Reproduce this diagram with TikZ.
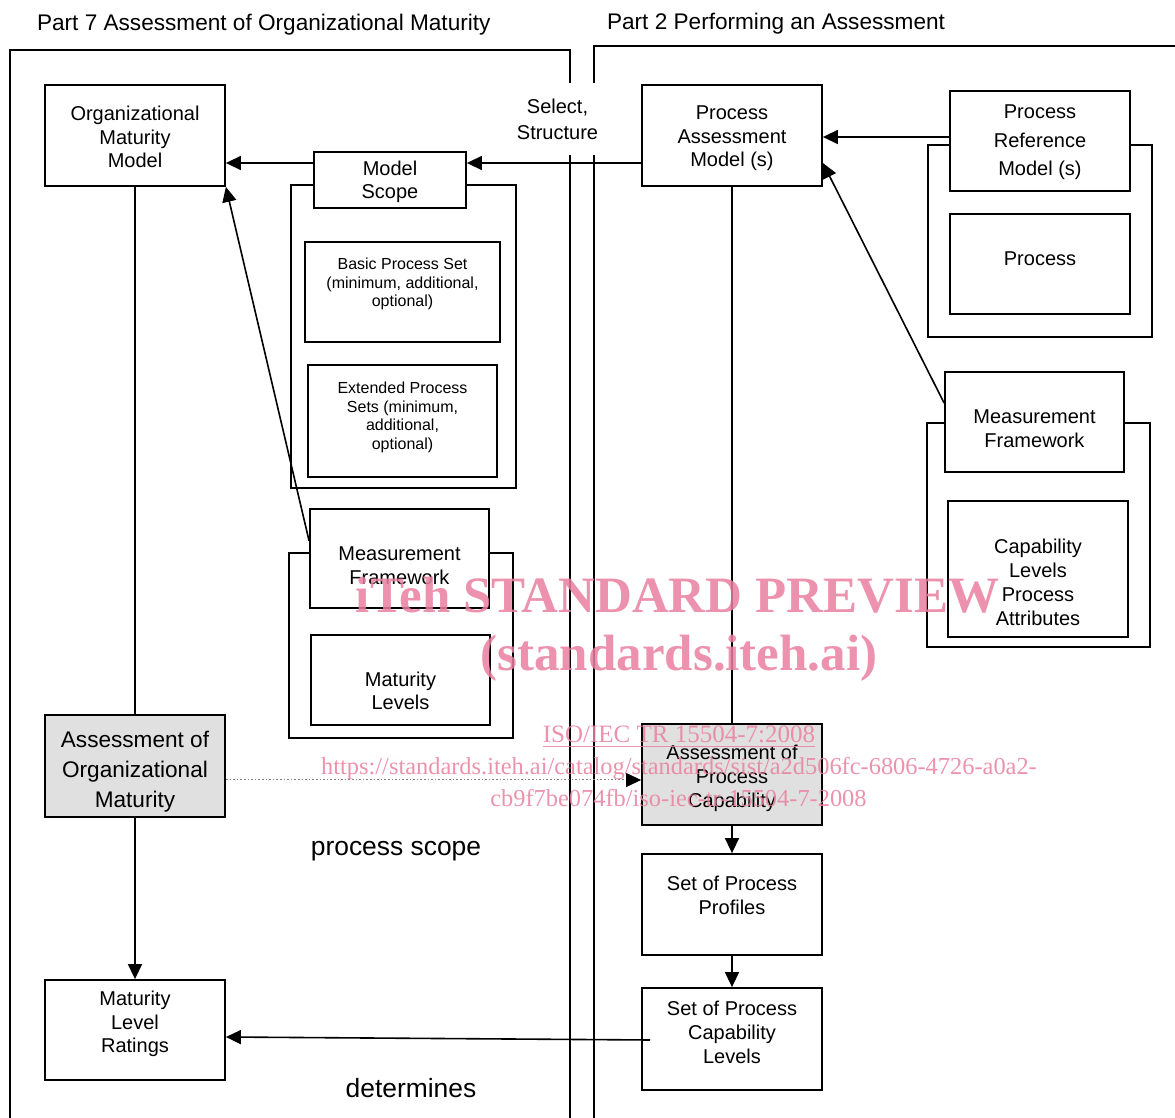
\documentclass[tikz,border=0pt]{standalone}
\usepackage{fontspec}
\setmainfont{Liberation Sans}
\newfontfamily\wmfont{Liberation Serif}
\usetikzlibrary{arrows.meta}
\definecolor{wmpink}{RGB}{234,128,160}

\begin{document}
\begin{tikzpicture}[x=0.5pt,y=-0.5pt,
	box/.style={draw,line width=0.9pt,fill=white,inner sep=0pt},
	shaded/.style={box,fill=black!12},
	lbl/.style={align=center,font=\fontsize{10}{11.75}\selectfont},
	small/.style={align=center,font=\fontsize{8}{9.25}\selectfont},
	frame/.style={line width=0.9pt},
	arr/.style={line width=0.8pt,-{Triangle[length=7.5pt,width=7pt,color=black]}},
	wm/.style={wmpink,opacity=0.85,inner sep=0pt,anchor=base}]
				\useasboundingbox (0,0) rectangle (1175,1118);
				\fill[white] (0,0) rectangle (1175,1118);
				\coordinate (refrow) at (0,137);
				\coordinate (selrow) at (0,163);
				\coordinate (mflrow) at (0,541);
				\coordinate (mfrrow) at (0,403);
				\coordinate (dotrow) at (0,780);
				\coordinate (detrow) at (0,1037);
				\node[anchor=west,font=\fontsize{11.3}{13}\selectfont](part7) at (30,25){Part 7 Assessment of Organizational Maturity};
				\node[anchor=west,font=\fontsize{11.3}{13}\selectfont](part2) at (600,24){Part 2 Performing an Assessment};
				\draw[frame](570,1118) to (570,50) to (10,50) to (10,1118);
				\draw[frame](594,1118) to (594,46) to (1175,46);
				\draw[frame](291,185) rectangle (516,488);
				\draw[frame](289,553) rectangle (513,738);
				\draw[frame](928,145) rectangle (1152,337);
				\draw[frame](927,423) rectangle (1150,647);
				\node[fill=white,align=center,inner xsep=2pt,minimum height=36pt,font=\fontsize{10}{13}\selectfont](sel) at (557.5,119){Select,\\Structure};
				\node[box,minimum width=90pt,minimum height=50.5pt,label={[lbl,yshift=-0.75pt]center:Organizational\\Maturity\\Model}](omm) at (135,135.5){};
				\node[box,minimum width=76pt,minimum height=28pt,label={[lbl,yshift=-1pt]center:Model\\Scope}](ms) at (390,180){};
				\node[box,minimum width=97.5pt,minimum height=50pt,label={[small,yshift=4pt]center:{Basic Process Set\\(minimum, additional,\\optional)}}](bps) at (402.5,292){};
				\node[box,minimum width=94.5pt,minimum height=56pt,label={[small,yshift=1.75pt]center:{Extended Process\\Sets (minimum,\\additional,\\optional)}}](eps) at (402.5,421){};
				\node[box,minimum width=89.5pt,minimum height=49.5pt,label={[lbl,yshift=-3.5pt]center:Measurement\\Framework}](mfl) at (399.5,558.5){};
				\node[box,minimum width=89.5pt,minimum height=45pt,label={[lbl,yshift=-5.5pt]center:Maturity\\Levels}](ml) at (400.5,680){};
				\node[shaded,minimum width=90pt,minimum height=51pt,label={[align=center,font=\fontsize{11.3}{15}\selectfont,yshift=-3pt]center:Assessment of\\Organizational\\Maturity}](aom) at (135,766){};
				\node[box,minimum width=90pt,minimum height=50pt,label={[lbl,yshift=3pt]center:Maturity\\Level\\Ratings}](mlr) at (135,1030){};
				\node[box,minimum width=90pt,minimum height=50.5pt,label={[lbl,yshift=-1.5pt]center:Process\\Assessment\\Model (s)}](pam) at (732,135.5){};
				\node[box,minimum width=90pt,minimum height=50pt,label={[align=center,font=\fontsize{10}{14.25}\selectfont,yshift=-0.75pt]center:Process\\Reference\\Model (s)}](prm) at (1040,141){};
				\node[box,minimum width=90pt,minimum height=50pt,label={[lbl,yshift=2.75pt]center:Process}](proc) at (1040,264){};
				\node[box,minimum width=89.5pt,minimum height=50pt,label={[lbl,yshift=-3.25pt]center:Measurement\\Framework}](mfr) at (1034.5,422){};
				\node[box,minimum width=90pt,minimum height=68pt,label={[align=center,font=\fontsize{10}{12}\selectfont,yshift=-6.75pt]center:Capability\\ Levels\\Process\\Attributes}](cap) at (1038,569){};
				\node[shaded,minimum width=90pt,minimum height=50.5pt,label={[align=center,font=\fontsize{10}{12}\selectfont,yshift=-2pt]center:Assessment of\\Process\\Capability}](apc) at (732,774.5){};
				\node[box,minimum width=90pt,minimum height=50.5pt,label={[lbl,yshift=4.5pt]center:Set of Process\\Profiles}](spp) at (732,904.5){};
				\node[box,minimum width=90pt,minimum height=51pt,label={[align=center,font=\fontsize{10}{12}\selectfont,yshift=3.25pt]center:Set of Process\\Capability\\Levels}](spcl) at (732,1039){};
				\node[font=\fontsize{13.2}{15}\selectfont](pscope) at (396,851){process scope};
				\node[font=\fontsize{13.2}{15}\selectfont](determ) at (411,1088){determines};
				\coordinate (detend) at (650,1040);
				\draw[arr](pam.west|-selrow) to (ms.east|-selrow);
				\draw[arr](ms.west|-selrow) to (omm.east|-selrow);
				\draw[arr](prm.west|-refrow) to (pam.east|-refrow);
				\draw[arr](mfr.west|-mfrrow) to (pam.east|-selrow);
				\draw[arr](mfl.west|-mflrow) to (omm.south east);
				\draw[line width=0.8pt](omm.south) to (aom.north);
				\draw[arr](aom.south) to (mlr.north);
				\draw[line width=0.8pt](pam.south) to (apc.north);
				\draw[arr,densely dotted,line width=0.5pt,draw=gray](aom.east|-dotrow) to (apc.west|-dotrow);
				\draw[arr](apc.south) to (spp.north);
				\draw[arr](spp.south) to (spcl.north);
				\draw[arr](detend) to (mlr.east|-detrow);
				\node[wm,font=\wmfont\bfseries\fontsize{25.5}{28}\selectfont](wm1) at (677.5,613){iTeh STANDARD PREVIEW};
				\node[wm,font=\wmfont\bfseries\fontsize{25.5}{28}\selectfont](wm2) at (679,671){(standards.iteh.ai)};
				\node[wm,font=\wmfont\fontsize{12.5}{14}\selectfont](wm3) at (679,743){\underline{ISO/IEC TR 15504-7:2008}};
				\node[wm,font=\wmfont\fontsize{12.2}{14}\selectfont](wm4) at (679,775){https://standards.iteh.ai/catalog/standards/sist/a2d506fc-6806-4726-a0a2-};
				\node[wm,font=\wmfont\fontsize{12.2}{14}\selectfont](wm5) at (678.5,806){cb9f7be074fb/iso-iec-tr-15504-7-2008};
			\end{tikzpicture}
\end{document}
